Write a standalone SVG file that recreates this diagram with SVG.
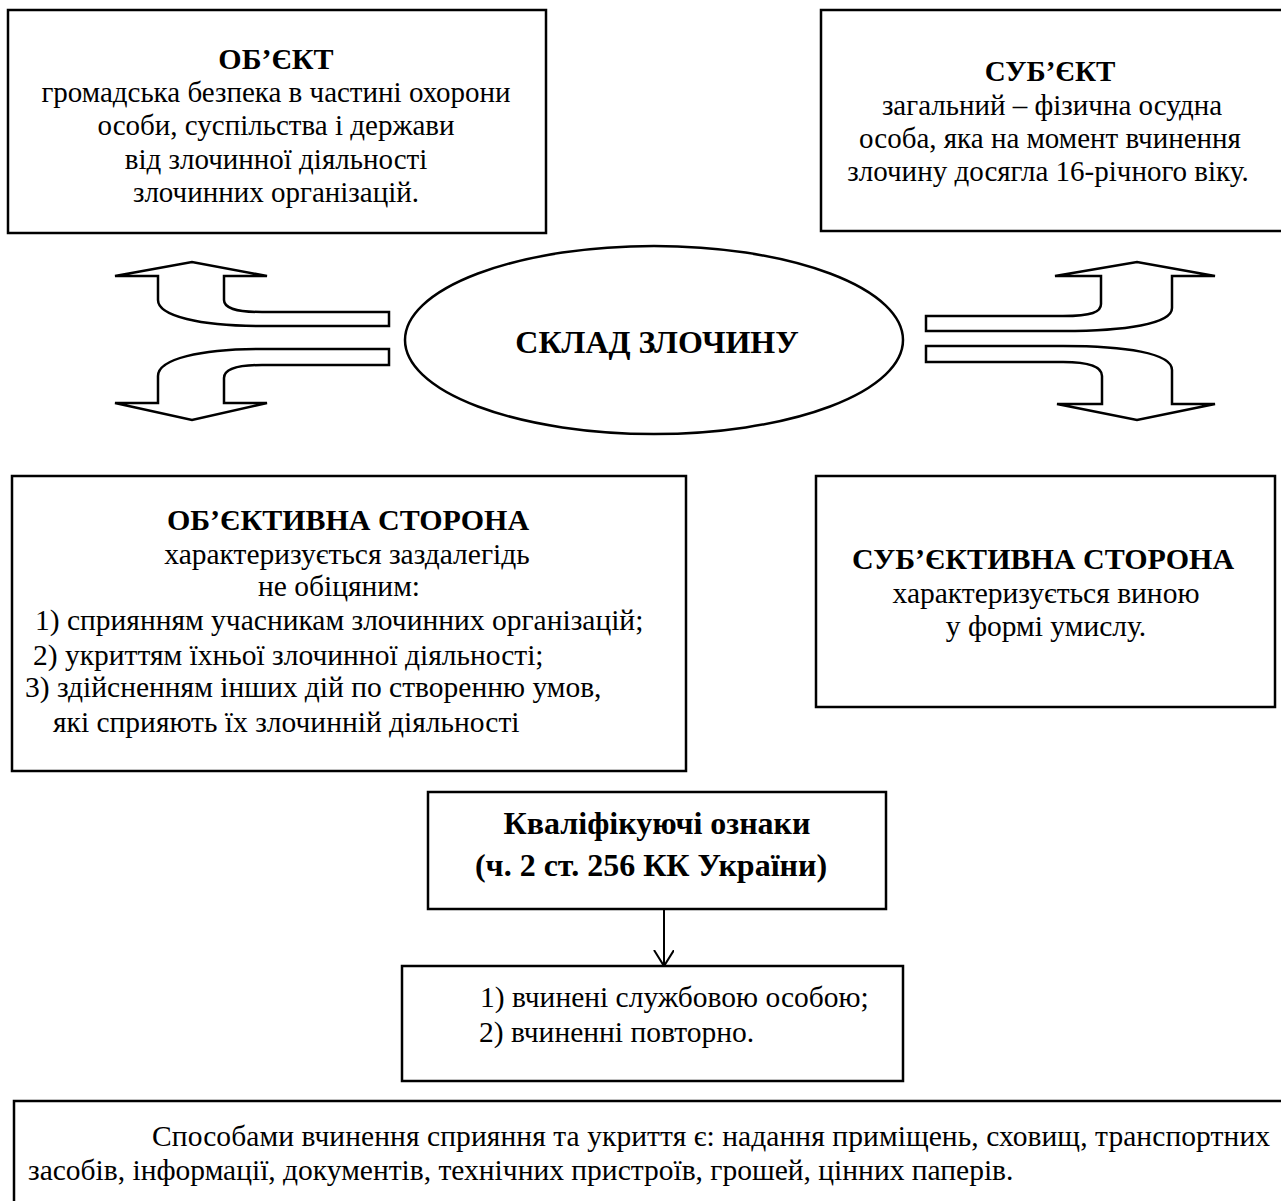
<svg xmlns="http://www.w3.org/2000/svg" width="1281" height="1201" viewBox="0 0 1281 1201">
<style>
.box{fill:#fff;stroke:#000;stroke-width:2.5}
.t{font-family:"Liberation Serif","Times New Roman",serif;font-size:29px;fill:#000}
.m{font-size:29.5px}
.b{font-weight:bold;font-size:30px}
.c{text-anchor:middle}
.arr{fill:#fff;stroke:#000;stroke-width:2.5;stroke-linejoin:miter}
</style>
<defs>
<marker id="vee" markerWidth="24" markerHeight="24" refX="16" refY="10" orient="auto" markerUnits="userSpaceOnUse">
<path d="M0,0 L16,10 L0,20" fill="none" stroke="#000" stroke-width="2"/>
</marker>
</defs>
<rect width="1281" height="1201" fill="#fff"/>

<g id="connectors">
<path class="arr" d="M389 312 L262 312 C235 312 224 308 224 300 L224 276 L267 276 L192 262 L115 276 L158 276 L158 300 C158 316 200 326 262 326 L389 326 Z"/>
<path class="arr" d="M389 349 L262 349 C200 349 158 359 158 376 L158 403 L115 403 L192 420 L267 403 L224 403 L224 378 C224 370 235 365 262 365 L389 365 Z"/>
<path class="arr" d="M926 316 L1063 316 C1092 316 1101 312 1101 304 L1101 276 L1055 276 L1137 262 L1215 276 L1172 276 L1172 308 C1172 324 1125 331 1063 331 L926 331 Z"/>
<path class="arr" d="M926 346 L1063 346 C1125 346 1172 353 1172 370 L1172 404 L1215 404 L1137 420 L1057 404 L1102 404 L1102 376 C1102 368 1092 362 1063 362 L926 362 Z"/>
<line x1="664" y1="909" x2="664" y2="966" stroke="#000" stroke-width="2" marker-end="url(#vee)"/>
</g>

<g id="obiekt">
<rect class="box" x="8" y="10" width="538" height="223"/>
<text class="t b c" x="276" y="69">ОБ’ЄКТ</text>
<text class="t c" x="276" y="102">громадська безпека в частині охорони</text>
<text class="t c" x="276" y="135">особи, суспільства і держави</text>
<text class="t c" x="276" y="169">від злочинної діяльності</text>
<text class="t c" x="276" y="202">злочинних організацій.</text>
</g>

<g id="subiekt">
<rect class="box" x="821" y="10" width="470" height="221"/>
<text class="t b c" x="1050" y="81" style="font-size:29px">СУБ’ЄКТ</text>
<text class="t c" x="1052" y="115">загальний – фізична осудна</text>
<text class="t c" x="1050" y="148">особа, яка на момент вчинення</text>
<text class="t c" x="1048" y="181">злочину досягла 16-річного віку.</text>
</g>

<g id="sklad">
<ellipse class="box" cx="654" cy="340" rx="249" ry="94"/>
<text class="t b c" x="657" y="353" style="font-size:32px">СКЛАД ЗЛОЧИНУ</text>
</g>

<g id="obiektyvna">
<rect class="box" x="12" y="476" width="674" height="295"/>
<text class="t b c" x="348" y="530">ОБ’ЄКТИВНА СТОРОНА</text>
<text class="t m c" x="347" y="564">характеризується заздалегідь</text>
<text class="t m" x="258" y="596">не обіцяним:</text>
<text class="t m" x="35" y="630">1) сприянням учасникам злочинних організацій;</text>
<text class="t m" x="33" y="665">2) укриттям їхньої злочинної діяльності;</text>
<text class="t m" x="25" y="697">3) здійсненням інших дій по створенню умов,</text>
<text class="t m" x="53" y="732">які сприяють їх злочинній діяльності</text>
</g>

<g id="subiektyvna">
<rect class="box" x="816" y="476" width="459" height="231"/>
<text class="t b c" x="1043" y="569">СУБ’ЄКТИВНА СТОРОНА</text>
<text class="t m c" x="1046" y="603">характеризується виною</text>
<text class="t m c" x="1046" y="636">у формі умислу.</text>
</g>

<g id="kvalif">
<rect class="box" x="428" y="792" width="458" height="117"/>
<text class="t b c" x="657" y="834" style="font-size:32px">Кваліфікуючі ознаки</text>
<text class="t b c" x="651" y="876" style="font-size:32px">(ч. 2 ст. 256 КК України)</text>
</g>

<g id="oznaky">
<rect class="box" x="402" y="966" width="501" height="115"/>
<text class="t m" x="480" y="1007">1)  вчинені службовою особою;</text>
<text class="t m" x="479" y="1042">2) вчиненні повторно.</text>
</g>

<g id="sposoby">
<rect class="box" x="14" y="1101" width="1280" height="120"/>
<text class="t m" x="152" y="1146" textLength="1118" lengthAdjust="spacing">Способами вчинення сприяння та укриття є: надання приміщень, сховищ, транспортних</text>
<text class="t m" x="28" y="1180">засобів, інформації, документів, технічних пристроїв, грошей, цінних паперів.</text>
</g>
</svg>
